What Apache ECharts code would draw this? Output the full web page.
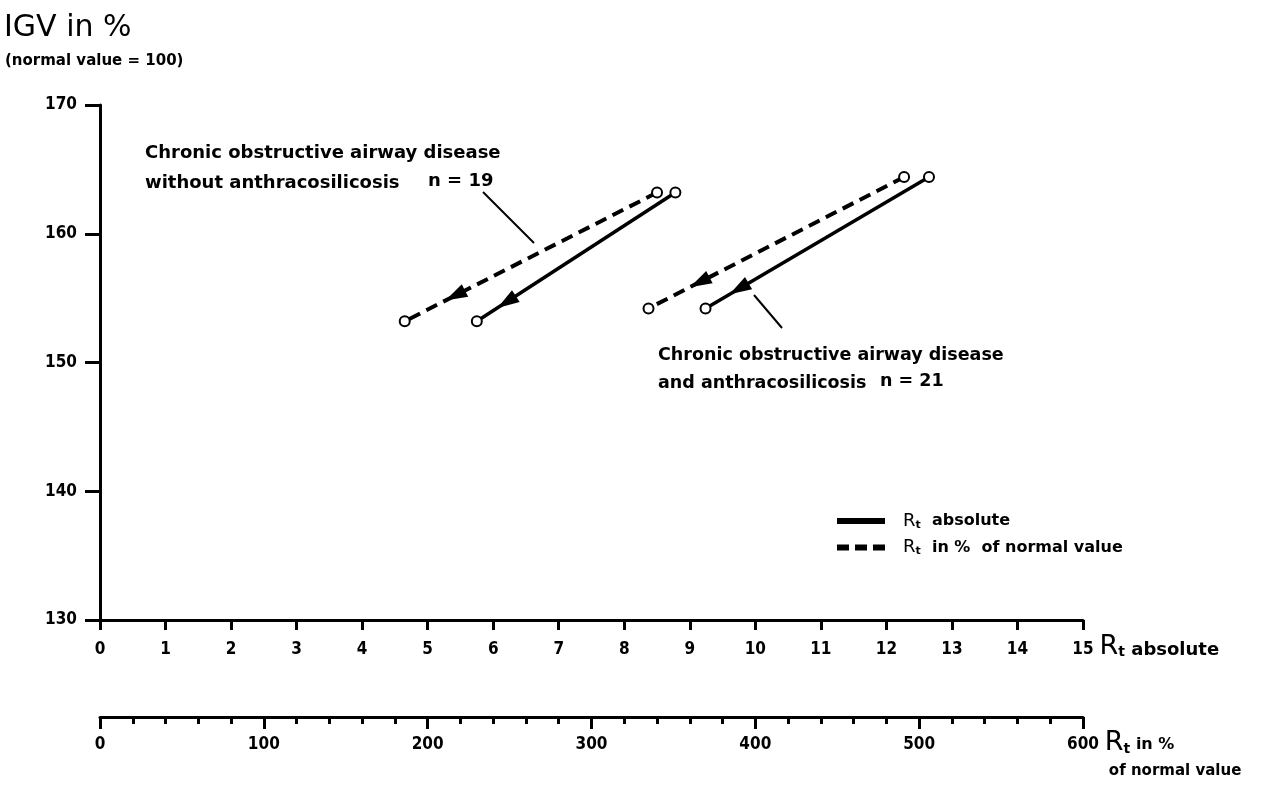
<!DOCTYPE html>
<html>
<head>
<meta charset="utf-8">
<script src="https://cdn.jsdelivr.net/npm/echarts@6/dist/echarts.min.js"></script>
<style>
  html, body { margin: 0; padding: 0; background: #fff; }
  #chart { width: 1263px; height: 785px; }
</style>
</head>
<body>
<div id="chart"></div>
<script>
const FONT = '"DejaVu Sans Condensed", "DejaVu Sans", sans-serif';
const WIDE = '"DejaVu Sans", sans-serif';

// legend / series names
const solidName = 'Rt absolute';
const dashedName = 'Rt in % of normal value';

// [Rt absolute, IGV %] — first point is the start, second the end of the arrow
const withoutAnthraSolid = [[8.78, 163.2], [5.75, 153.2]];
const withoutAnthraDashed = [[8.50, 163.2], [4.65, 153.2]];
const withAnthraSolid = [[12.65, 164.4], [9.24, 154.2]];
const withAnthraDashed = [[12.27, 164.4], [8.37, 154.2]];

// axes
const yRange = [130, 170, 10];
const rtAbsRange = [0, 15, 1];
const rtPctRange = [0, 600, 100];

const lineSets = [
  { name: solidName, data: withoutAnthraSolid, dashed: false },
  { name: dashedName, data: withoutAnthraDashed, dashed: true },
  { name: solidName, data: withAnthraSolid, dashed: false },
  { name: dashedName, data: withAnthraDashed, dashed: true }
];

const chart = echarts.init(document.getElementById('chart'));

const labelStyle = { color: '#000', fontFamily: FONT, fontWeight: 'bold', fontSize: 17 };
const axisLineStyle = { color: '#000', width: 3 };
const annoStyle = { fontSize: 18, fontWeight: 'bold', fontFamily: WIDE, fill: '#000' };
const anno2Style = { fontSize: 17.5, fontWeight: 'bold', fontFamily: WIDE, fill: '#000' };

const option = {
  backgroundColor: '#fff',
  animation: false,
  grid: { left: 100, right: 180, top: 105, bottom: 164 },
  legend: {
    orient: 'vertical',
    left: 837,
    top: 512,
    padding: 0,
    itemWidth: 46,
    itemHeight: 4,
    itemGap: 8,
    data: [
      { name: solidName, icon: 'rect' },
      { name: dashedName, icon: 'path://M0,0h10v4h-10z M18,0h10v4h-10z M36,0h10v4h-10z' }
    ],
    formatter: function (n) {
      return n === solidName ? '{r|R}{t|t}{a|  absolute}' : '{r|R}{t|t}{a|  in %  of normal value}';
    },
    textStyle: {
      color: '#000', padding: [0, 0, 0, 14],
      rich: {
        r: { fontSize: 18, fontFamily: WIDE, color: '#000' },
        t: { fontSize: 11, fontFamily: WIDE, fontWeight: 'bold', color: '#000', padding: [8, 0, 0, 0] },
        a: { fontSize: 16, fontFamily: WIDE, fontWeight: 'bold', color: '#000' }
      }
    }
  },
  xAxis: [
    {
      type: 'value',
      position: 'bottom',
      min: rtAbsRange[0], max: rtAbsRange[1], interval: rtAbsRange[2],
      axisLine: { onZero: false, lineStyle: axisLineStyle },
      axisTick: { length: 10, lineStyle: { color: '#000', width: 3 } },
      axisLabel: Object.assign({ margin: 21 }, labelStyle),
      splitLine: { show: false },
      name: '{r|R}{t|t}{a| absolute}',
      nameLocation: 'end',
      nameGap: 6,
      nameTextStyle: {
        verticalAlign: 'top', align: 'left', padding: [13, 0, 0, 0],
        rich: {
          r: { fontSize: 27, fontFamily: WIDE, color: '#000' },
          t: { fontSize: 14, fontFamily: WIDE, fontWeight: 'bold', color: '#000', padding: [12, 0, 0, 0] },
          a: { fontSize: 18, fontFamily: WIDE, fontWeight: 'bold', color: '#000', padding: [8, 0, 0, 0] }
        }
      }
    },
    {
      type: 'value',
      position: 'bottom',
      offset: 97,
      min: rtPctRange[0], max: rtPctRange[1], interval: rtPctRange[2],
      axisLine: { onZero: false, lineStyle: axisLineStyle },
      axisTick: { length: 12, lineStyle: { color: '#000', width: 3 } },
      minorTick: { show: true, splitNumber: 5, length: 7, lineStyle: { color: '#000', width: 3 } },
      axisLabel: Object.assign({ margin: 19 }, labelStyle),
      splitLine: { show: false },
      name: '{r|R}{t|t}{a| in %}\n{b|of normal value}',
      nameLocation: 'end',
      nameGap: 6,
      nameTextStyle: {
        verticalAlign: 'top', align: 'left', padding: [12, 0, 0, 0], lineHeight: 28,
        rich: {
          r: { fontSize: 27, fontFamily: WIDE, color: '#000' },
          t: { fontSize: 14, fontFamily: WIDE, fontWeight: 'bold', color: '#000', padding: [12, 0, 0, 0] },
          a: { fontSize: 16, fontFamily: WIDE, fontWeight: 'bold', color: '#000', padding: [4, 0, 0, 0] },
          b: { fontSize: 15, fontFamily: WIDE, fontWeight: 'bold', color: '#000', padding: [0, 0, 0, 4] }
        }
      }
    }
  ],
  yAxis: {
    type: 'value',
    min: yRange[0], max: yRange[1], interval: yRange[2],
    axisLine: { show: true, onZero: false, lineStyle: axisLineStyle },
    axisTick: { show: true, length: 15, lineStyle: { color: '#000', width: 3 } },
    axisLabel: Object.assign({ margin: 23 }, labelStyle),
    splitLine: { show: false }
  },
  graphic: [
    { type: 'text', left: 4, top: 13, style: { text: 'IGV in %', fontSize: 30, fontFamily: WIDE, fill: '#000' } },
    { type: 'text', left: 5, top: 54, style: { text: '(normal value = 100)', fontSize: 15, fontWeight: 'bold', fontFamily: WIDE, fill: '#000' } },
    { type: 'text', left: 145, top: 138, style: Object.assign({ text: 'Chronic obstructive airway disease\nwithout anthracosilicosis', lineHeight: 30 }, annoStyle) },
    { type: 'text', left: 428, top: 172, style: Object.assign({ text: 'n = 19' }, annoStyle) },
    { type: 'line', shape: { x1: 483, y1: 192, x2: 534, y2: 243 }, style: { stroke: '#000', lineWidth: 2 } },
    { type: 'text', left: 658, top: 341, style: Object.assign({ text: 'Chronic obstructive airway disease\nand anthracosilicosis', lineHeight: 28 }, anno2Style) },
    { type: 'text', left: 880, top: 372, style: Object.assign({ text: 'n = 21' }, anno2Style) },
    { type: 'line', shape: { x1: 754, y1: 295, x2: 782, y2: 328 }, style: { stroke: '#000', lineWidth: 2 } }
  ],
  series: lineSets.map(function (s) {
    return {
      name: s.name,
      type: 'line',
      data: s.data,
      symbol: 'emptyCircle',
      symbolSize: 10,
      showSymbol: true,
      color: '#000',
      itemStyle: { color: '#000', borderColor: '#000', borderWidth: 2.5 },
      lineStyle: { color: '#000', width: s.dashed ? 4 : 3.5, type: s.dashed ? [12, 7] : 'solid' },
      z: 3
    };
  }).concat([{
    id: 'arrows',
    type: 'scatter',
    symbol: 'triangle',
    symbolSize: [14, 22],
    itemStyle: { color: '#000', opacity: 1 },
    data: [],
    z: 4
  }])
};

chart.setOption(option);

// arrow heads partway along each line, pointing toward the end point
const arrowData = lineSets.map(function (s, i) {
  const a = s.data[0], b = s.data[1];
  const f = s.dashed ? 0.2 : 0.15;
  const p = [b[0] + f * (a[0] - b[0]), b[1] + f * (a[1] - b[1])];
  const pa = chart.convertToPixel({ seriesIndex: i }, a);
  const pb = chart.convertToPixel({ seriesIndex: i }, b);
  const ang = Math.atan2(-(pb[1] - pa[1]), pb[0] - pa[0]) * 180 / Math.PI;
  return { value: p, symbolRotate: ang - 90 };
});
chart.setOption({ series: [{ id: 'arrows', data: arrowData }] });
</script>
</body>
</html>
